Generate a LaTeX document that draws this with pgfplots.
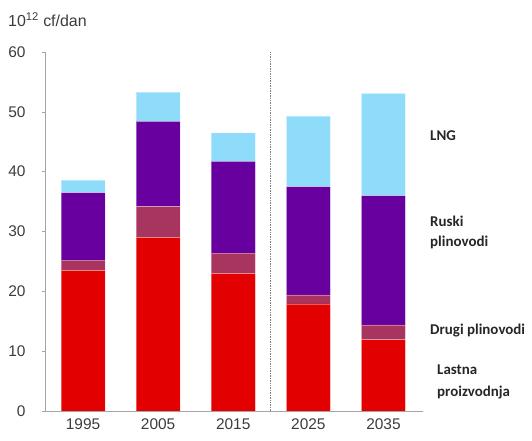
\documentclass[border=0pt]{standalone}
\usepackage{pgfplots}
\pgfplotsset{compat=1.18}
\usepackage{fontspec}
\setmainfont{Liberation Sans}
\newfontfamily\labelfont{Carlito}

\definecolor{cRed}{RGB}{226,0,0}
\definecolor{cMaroon}{RGB}{168,52,96}
\definecolor{cPurple}{RGB}{104,0,160}
\definecolor{cLng}{RGB}{142,220,250}
\definecolor{cAxis}{RGB}{165,165,165}
\definecolor{cText}{RGB}{60,60,60}

\begin{document}
\begin{tikzpicture}[x=1bp,y=1bp]
\useasboundingbox (-45,-30) rectangle (487,411);
\begin{axis}[
  at={(0,0)}, anchor=south west,
  scale only axis,
  width=378bp, height=359bp,
  xmin=-0.507, xmax=4.527,
  ymin=0, ymax=60,
  ybar stacked,
  bar width=0.587,
  axis x line*=bottom,
  axis y line*=left,
  axis line style={cAxis, line width=0.8bp},
  xtick={0,1,2,3,4},
  xticklabels={1995,2005,2015,2025,2035},
  xtick style={draw=none},
  ytick={0,10,20,30,40,50,60},
  ytick style={cAxis, line width=0.6bp},
  tick align=outside,
  major tick length=3bp,
  tick label style={font=\fontsize{15.5}{18}\selectfont, text=cText},
  /pgf/number format/assume math mode=true,
  yticklabel style={xshift=-13bp},
  xticklabel style={yshift=-1bp},
  every axis plot/.append style={draw=white, draw opacity=0.35, line width=0.6bp},
]
% stacked supply by source: domestic, other pipelines, Russian pipelines, LNG
\addplot[fill=cRed] coordinates {(0,23.5) (1,29.0) (2,23.0) (3,17.9) (4,11.9)};
\addplot[fill=cMaroon] coordinates {(0,1.7) (1,5.2) (2,3.4) (3,1.5) (4,2.5)};
\addplot[fill=cPurple] coordinates {(0,11.3) (1,14.2) (2,15.3) (3,18.1) (4,21.6)};
\addplot[fill=cLng] coordinates {(0,2.1) (1,4.9) (2,4.8) (3,11.8) (4,17.1)};
\draw[densely dotted, gray, line width=0.7bp] (axis cs:2.493,0) -- (axis cs:2.493,60);
\end{axis}
\node[anchor=base west, inner sep=0pt, text=cText, font=\fontsize{16}{18}\selectfont] at (-37,384) {10\textsuperscript{12} cf/dan};
\begin{scope}[every node/.style={anchor=base west, inner sep=0pt, text=black!85, font=\labelfont\bfseries\fontsize{15}{17}\selectfont}]
\node at (385,270) {LNG};
\node at (385,184) {Ruski};
\node at (385,164) {plinovodi};
\node at (385,76) {Drugi plinovodi};
\node at (392,36) {Lastna};
\node at (392,14) {proizvodnja};
\end{scope}
\end{tikzpicture}
\end{document}
